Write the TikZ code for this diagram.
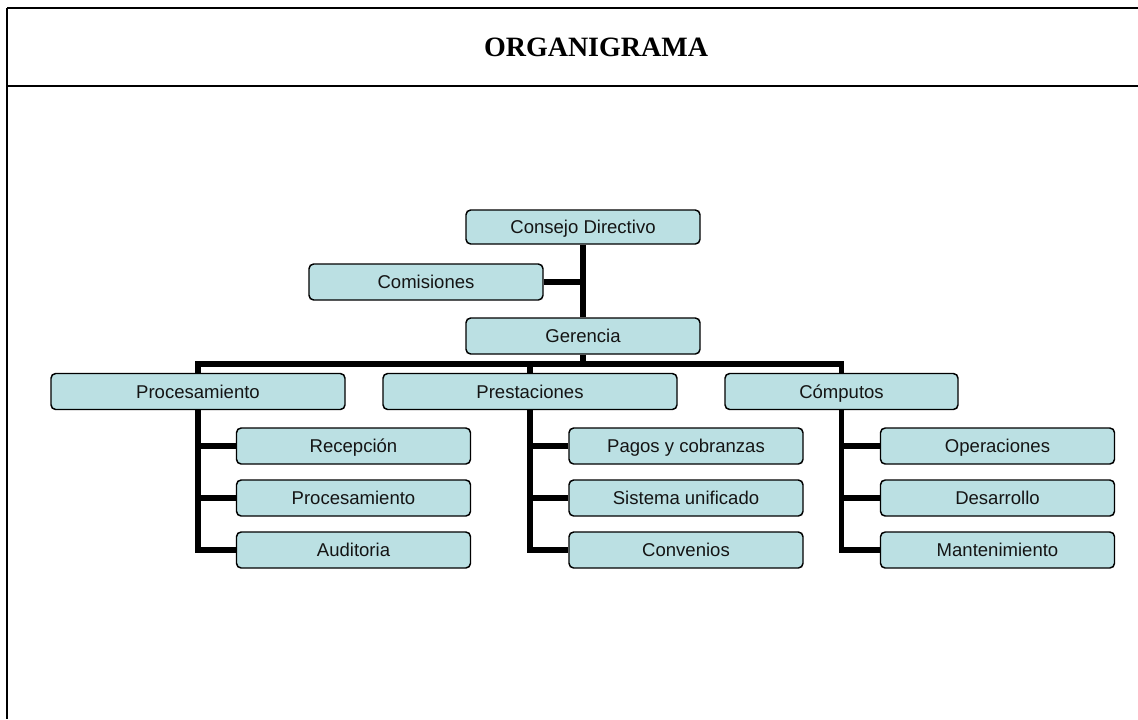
\documentclass[tikz,border=0pt]{standalone}
\usepackage{fontspec}
\setmainfont{Liberation Sans}
\newfontfamily\titlefont{Liberation Serif}
\usetikzlibrary{calc}
\definecolor{boxfill}{RGB}{187,224,227}
\definecolor{boxtext}{RGB}{20,20,20}
\begin{document}
\begin{tikzpicture}[x=0.75pt,y=-0.75pt,
  unit/.style={draw=black, line width=1.1pt, fill=boxfill, rounded corners=3.5pt,
    inner sep=0pt, minimum height=27pt, text=boxtext,
    text height=12pt, text depth=2.05pt,
    font=\fontsize{13.9pt}{16pt}\selectfont},
  wide/.style={unit, minimum width=220.5pt},
  mid/.style={unit, minimum width=175.5pt},
  conn/.style={line width=3.9pt, line join=miter, draw=black},
  frameline/.style={line width=1.1pt, draw=black}]
\useasboundingbox (0,0) rectangle (1138,719);

% page frame and title band
\draw[frameline] (7,8) -- (1138,8);
\draw[frameline] (7,86) -- (1138,86);
\draw[line width=1.5pt] (7,8) -- (7,719);
\node[font=\titlefont\bfseries\fontsize{21pt}{24pt}\selectfont] (title) at (596,47.5) {ORGANIGRAMA};

% top of the chart
\node[mid, minimum height=25.5pt] (cd) at (583,227) {Consejo Directivo};
\node[mid] (com) at (426,282) {Comisiones};
\node[mid] (ger) at (583,336) {Gerencia};

% departments
\node[wide] (proc) at (198,391.5) {Procesamiento};
\node[wide] (prest) at (530,391.5) {Prestaciones};
\node[mid, minimum width=174.75pt] (comp) at (841.5,391.5) {Cómputos};

% sections of Procesamiento
\node[mid] (p1) at (353.5,446) {Recepción};
\node[mid] (p2) at (353.5,498) {Procesamiento};
\node[mid] (p3) at (353.5,550) {Auditoria};

% sections of Prestaciones
\node[mid] (s1) at (686,446) {Pagos y cobranzas};
\node[mid] (s2) at (686,498) {Sistema unificado};
\node[mid] (s3) at (686,550) {Convenios};

% sections of Cómputos
\node[mid] (c1) at (997.5,446) {Operaciones};
\node[mid] (c2) at (997.5,498) {Desarrollo};
\node[mid] (c3) at (997.5,550) {Mantenimiento};

\coordinate (bus) at (583,364);

% connectors
\draw[conn] (cd.south) -- (ger.north);
\draw[conn] (com.east) -- (com.east -| cd.south);
\draw[conn] (ger.south) -- (bus);
\draw[conn] (proc.north) |- (bus) -| (comp.north);
\draw[conn] (prest.north) -- (prest.north |- bus);

\draw[conn] (proc.south) |- (p3.west);
\draw[conn] (p1.west) -- (p1.west -| proc.south);
\draw[conn] (p2.west) -- (p2.west -| proc.south);

\draw[conn] (prest.south) |- (s3.west);
\draw[conn] (s1.west) -- (s1.west -| prest.south);
\draw[conn] (s2.west) -- (s2.west -| prest.south);

\draw[conn] (comp.south) |- (c3.west);
\draw[conn] (c1.west) -- (c1.west -| comp.south);
\draw[conn] (c2.west) -- (c2.west -| comp.south);
\end{tikzpicture}
\end{document}
